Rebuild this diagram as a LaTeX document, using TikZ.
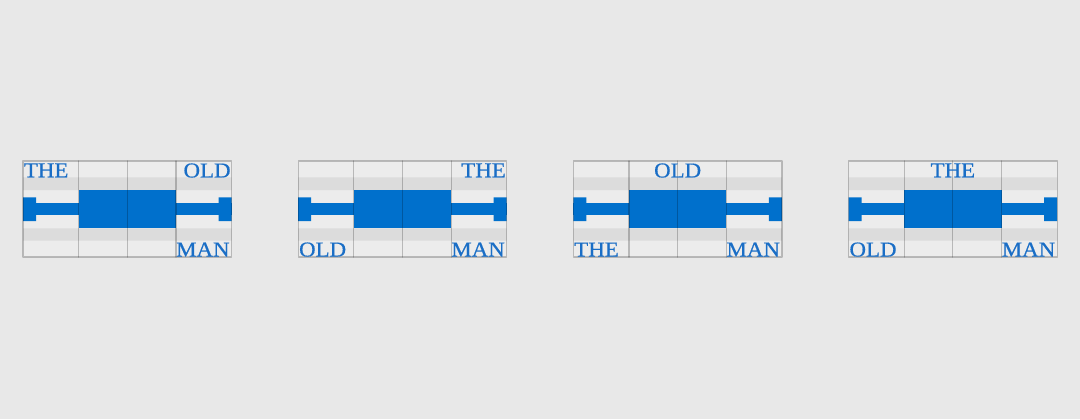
\documentclass[tikz,border=0pt]{standalone}
\usepackage{fontspec}
\newfontfamily\wordfont[FakeStretch=1.08,FakeBold=0.6]{Liberation Serif}
\definecolor{pagegray}{HTML}{E8E8E8}
\definecolor{cellgray}{HTML}{ECECEC}
\definecolor{bandgray}{HTML}{DCDCDC}
\definecolor{barblue}{HTML}{0070CC}
\definecolor{wordblue}{HTML}{1A6EC6}
\tikzset{
	word/.style={inner sep=0pt, text=wordblue, font=\wordfont\fontsize{10.6}{12}\selectfont},
	gridline/.style={draw=black, draw opacity=.22, line width=.6pt}
}
\begin{document}
\begin{tikzpicture}[x=.5pt, y=-.5pt, line join=round, line cap=round]
	\fill[pagegray] (0,0) rectangle (1080,419);
	\useasboundingbox (0,0) rectangle (1080,419);
	\foreach \p in {0,1,2,3}{
		\begin{scope}[shift={(275.2*\p,0)}]
			\fill[cellgray] (23,161) rectangle (231.5,257);
			\fill[bandgray] (23,177.3) rectangle (231.5,190) (23,228.3) rectangle (231.5,240.7);
			% the bar
			\fill[barblue] (78.5,190) rectangle (176,228.3);
			\fill[barblue] (23,203) rectangle (231.5,215);
			\fill[barblue] (23,197.3) rectangle (36,221) (218.5,197.3) rectangle (231.5,221);
			\foreach \c in {78.5,127.25,176}{
				\draw[gridline] (\c,161)--(\c,257);
			}
			\draw[gridline] (23,161) rectangle (231.5,257);
			\path 
			(23.5,163)coordinate (tl\p)
			(127.25,163)coordinate (tc\p)
			(231,163)coordinate (tr\p)
			(23.5,256.5)coordinate (bl\p)
			(230,256.5)coordinate (br\p)
			;
		\end{scope}
	}
	\node[word, anchor=north west] (theA) at (tl0) {THE};
	\node[word, anchor=north east] (oldA) at (tr0) {OLD};
	\node[word, anchor=base east] (manA) at (br0) {MAN};
	\node[word, anchor=north east] (theB) at (tr1) {THE};
	\node[word, anchor=base west] (oldB) at (bl1) {OLD};
	\node[word, anchor=base east] (manB) at (br1) {MAN};
	\node[word, anchor=north] (oldC) at (tc2) {OLD};
	\node[word, anchor=base west] (theC) at (bl2) {THE};
	\node[word, anchor=base east] (manC) at (br2) {MAN};
	\node[word, anchor=north] (theD) at (tc3) {THE};
	\node[word, anchor=base west] (oldD) at (bl3) {OLD};
	\node[word, anchor=base east] (manD) at (br3) {MAN};
\end{tikzpicture}
\end{document}
